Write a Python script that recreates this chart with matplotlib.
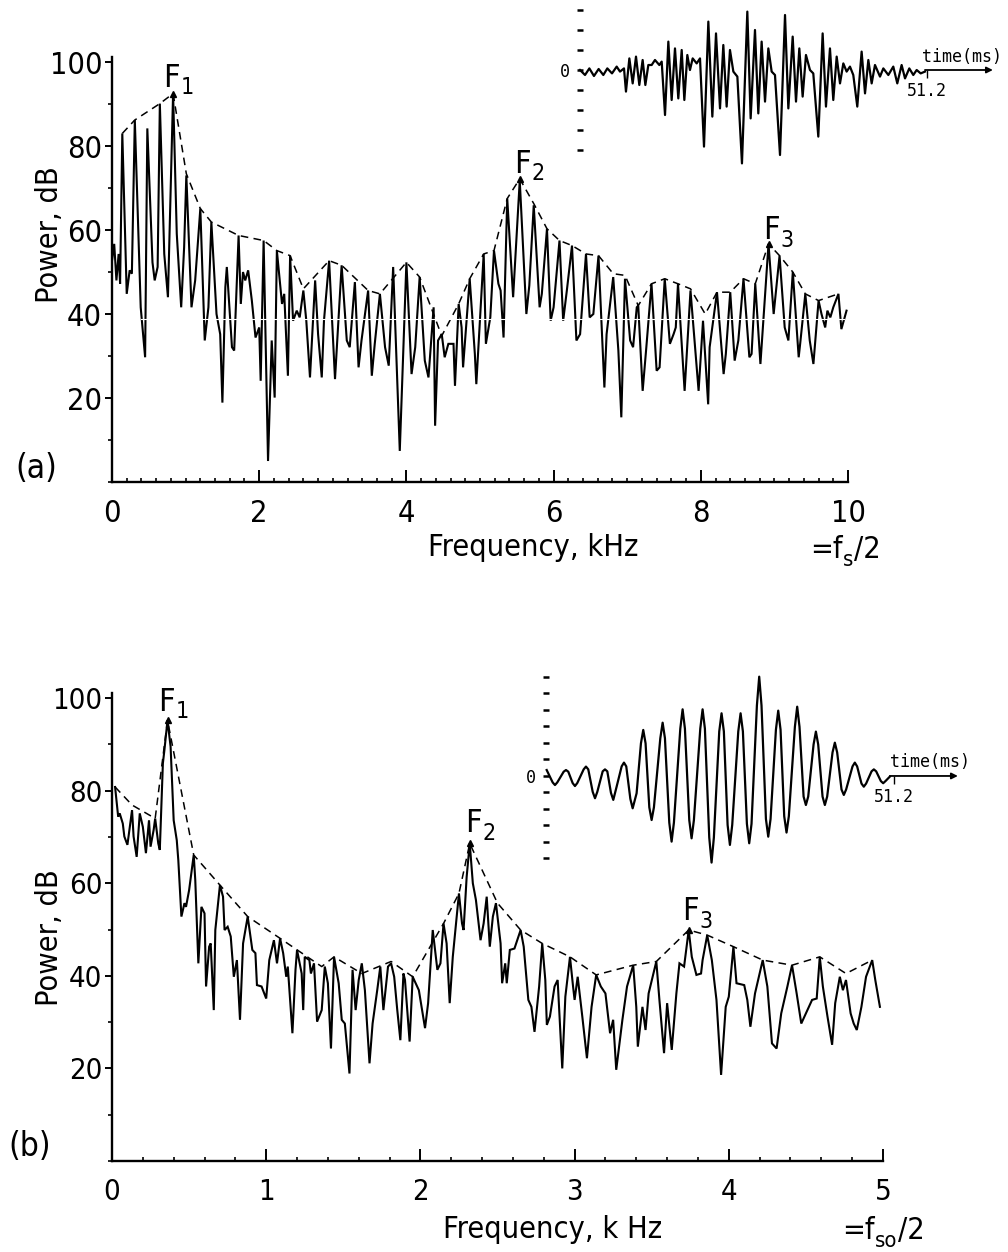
import os
import matplotlib
matplotlib.use('Agg')
import matplotlib.pyplot as plt
from matplotlib import font_manager
from matplotlib.font_manager import FontProperties
from matplotlib.ticker import MultipleLocator
import numpy as np

# ---------------- data ----------------
# Panel (a): power spectrum, 0-10 kHz
a_freq = [0.00, 0.03, 0.06, 0.09, 0.11, 0.14, 0.20, 0.24, 0.27, 0.31,
          0.39, 0.45, 0.48, 0.55, 0.58, 0.62, 0.65, 0.71, 0.76, 0.83,
          0.88, 0.94, 0.98, 1.01, 1.08, 1.13, 1.20, 1.26, 1.31, 1.35,
          1.42, 1.47, 1.50, 1.54, 1.56, 1.63, 1.66, 1.72, 1.75, 1.78,
          1.81, 1.85, 1.90, 1.95, 2.00, 2.02, 2.06, 2.12, 2.17, 2.21,
          2.24, 2.31, 2.34, 2.39, 2.42, 2.46, 2.51, 2.55, 2.60, 2.64,
          2.69, 2.76, 2.80, 2.85, 2.88, 2.95, 3.03, 3.12, 3.19, 3.23,
          3.30, 3.35, 3.39, 3.48, 3.53, 3.57, 3.64, 3.71, 3.76, 3.82,
          3.91, 4.00, 4.07, 4.12, 4.18, 4.25, 4.30, 4.37, 4.39, 4.43,
          4.48, 4.52, 4.57, 4.64, 4.66, 4.71, 4.75, 4.77, 4.86, 4.93,
          4.95, 5.05, 5.08, 5.14, 5.19, 5.25, 5.28, 5.32, 5.37, 5.45,
          5.54, 5.63, 5.67, 5.73, 5.81, 5.84, 5.91, 5.96, 6.00, 6.08,
          6.13, 6.18, 6.25, 6.31, 6.36, 6.44, 6.49, 6.54, 6.61, 6.69,
          6.72, 6.81, 6.88, 6.92, 6.97, 7.04, 7.08, 7.13, 7.15, 7.21,
          7.26, 7.33, 7.40, 7.44, 7.51, 7.58, 7.63, 7.66, 7.69, 7.78,
          7.86, 7.97, 8.03, 8.10, 8.12, 8.22, 8.31, 8.34, 8.40, 8.46,
          8.51, 8.58, 8.66, 8.69, 8.74, 8.81, 8.92, 8.99, 9.07, 9.14,
          9.19, 9.25, 9.33, 9.35, 9.42, 9.48, 9.53, 9.60, 9.64, 9.69,
          9.72, 9.76, 9.80, 9.87, 9.91, 9.98]
a_db = [52.7, 56.7, 48.0, 54.3, 47.2, 83.0, 44.8, 50.4, 49.6, 86.2,
        41.6, 29.7, 84.2, 52.3, 48.0, 51.2, 90.1, 54.3, 44.0, 92.5,
        59.1, 41.6, 55.9, 73.0, 41.6, 48.0, 65.1, 33.7, 41.6, 61.9,
        40.0, 35.2, 18.9, 46.4, 51.2, 32.1, 31.3, 58.7, 42.4, 50.0,
        48.0, 50.4, 43.2, 34.4, 36.8, 24.1, 57.5, 5.0, 33.7, 20.1,
        55.1, 42.4, 44.8, 25.3, 53.9, 38.4, 40.8, 39.2, 45.6, 38.4,
        24.9, 48.0, 35.2, 24.9, 38.4, 52.7, 24.5, 51.6, 33.7, 32.1,
        47.6, 27.3, 33.7, 45.6, 25.3, 32.9, 44.8, 32.1, 27.7, 51.2,
        7.4, 52.3, 25.7, 32.1, 48.8, 28.9, 24.9, 41.6, 13.4, 33.7,
        35.2, 29.7, 32.9, 32.9, 22.9, 42.4, 36.8, 27.3, 48.4, 30.5,
        23.3, 54.3, 32.9, 39.2, 55.1, 47.2, 45.6, 34.4, 67.5, 44.0,
        71.8, 40.0, 46.8, 65.9, 41.6, 44.8, 60.3, 38.4, 41.6, 57.5,
        38.4, 45.6, 56.3, 33.7, 35.2, 54.3, 39.2, 40.0, 53.9, 22.5,
        35.2, 48.8, 31.3, 15.4, 48.4, 33.7, 32.1, 41.6, 42.0, 21.7,
        32.1, 47.2, 26.5, 27.3, 48.4, 32.9, 35.2, 36.8, 47.2, 21.7,
        45.6, 21.7, 38.4, 18.5, 32.1, 45.2, 25.7, 30.5, 45.2, 28.9,
        33.7, 48.4, 29.7, 30.5, 47.2, 28.1, 56.7, 40.0, 53.9, 36.8,
        33.7, 50.0, 29.7, 32.9, 44.8, 33.7, 28.1, 43.2, 40.0, 36.8,
        40.8, 39.2, 41.6, 44.8, 36.4, 40.8]
a_env_freq = [0.14, 0.31, 0.65, 0.83, 1.01, 1.20, 1.35, 1.72, 2.06, 2.24,
              2.42, 2.60, 2.95, 3.12, 3.48, 3.64, 4.00, 4.18, 4.48, 4.71,
              4.86, 5.05, 5.19, 5.37, 5.54, 5.73, 5.91, 6.08, 6.25, 6.44,
              6.61, 6.81, 6.97, 7.15, 7.33, 7.51, 7.69, 7.86, 8.06, 8.22,
              8.40, 8.58, 8.74, 8.92, 9.07, 9.25, 9.42, 9.60, 9.87]
a_env_db = [83.0, 86.2, 90.1, 92.5, 73.4, 65.1, 61.9, 58.7, 57.5, 55.1,
            53.9, 46.0, 52.7, 51.6, 45.6, 44.8, 52.3, 48.8, 34.8, 42.4,
            48.4, 54.3, 55.1, 67.5, 72.2, 66.3, 60.3, 57.5, 56.3, 54.3,
            53.9, 49.6, 49.2, 42.0, 47.2, 48.4, 47.2, 46.0, 40.0, 45.2,
            45.2, 48.4, 47.2, 56.7, 53.9, 50.0, 44.8, 43.2, 44.8]
a_formants = [0.83, 5.54, 8.92]
a_formant_subs = ['1', '2', '3']
a_formant_label_pos = [(0.70, 92.5), (5.47, 72.0), (8.85, 56.2)]

# Panel (a) inset: time waveform (ms, arbitrary amplitude)
a_sig_t = [0, 0.74, 1.38, 2.06, 2.75, 3.44, 4.03, 4.72, 5.41, 5.90,
           6.49, 6.78, 7.28, 7.77, 8.26, 8.75, 9.24, 9.64, 10.08, 10.57,
           11.06, 11.70, 12.05, 12.54, 13.03, 13.52, 14.01, 14.50, 15.00, 15.39,
           15.83, 16.22, 16.62, 17.21, 17.70, 18.29, 18.93, 19.52, 20.06, 20.65,
           21.14, 21.63, 22.12, 22.62, 23.21, 23.89, 24.68, 25.17, 25.81, 26.30,
           26.79, 27.29, 27.78, 28.27, 28.76, 29.50, 30.24, 30.73, 31.37, 31.86,
           32.35, 32.84, 33.33, 33.92, 34.41, 35.15, 35.79, 36.28, 36.87, 37.36,
           37.86, 38.35, 38.84, 39.33, 39.82, 40.31, 40.90, 41.54, 42.04, 42.53,
           43.02, 43.51, 44.25, 44.74, 45.48, 46.21, 46.80, 47.44, 47.94, 48.57,
           49.16, 49.66, 50.25, 50.88]
a_sig_amp = [0, -0.25, 0.08, -0.3, 0.05, -0.25, 0.08, -0.17, 0.17, -0.08,
             0.08, -1.08, 0.58, -0.67, 0.67, -0.75, 0.5, -0.75, 0.25, 0.25,
             0.5, 0.25, 0.42, -2.25, 1.42, -1.5, 1.08, -1.42, 1.0, -1.5,
             0.75, 0, 0.58, 0.33, 0.58, -3.83, 2.42, -2.33, 1.83, -1.92,
             1.25, -1.83, 1.0, -0.08, -0.33, -4.67, 2.92, -2.42, 2.0, -2.17,
             1.42, -1.58, 1.08, -0.08, -0.25, -4.25, 2.75, -1.92, 1.67, -1.58,
             1.08, -1.33, 0.75, 0, -0.17, -3.33, 1.83, -1.83, 1.08, -1.5,
             0.67, -0.67, 0.33, -0.08, 0.17, -0.25, -1.83, 0.92, -1.17, 0.5,
             -0.67, 0.25, -0.33, 0.08, -0.25, 0.17, -0.67, 0.25, -0.42, 0.08,
             -0.25, 0, -0.17, -0.08]

# Panel (b): power spectrum, 0-5 kHz
b_freq = [0.02, 0.04, 0.05, 0.07, 0.08, 0.10, 0.13, 0.14, 0.16, 0.18,
          0.20, 0.22, 0.24, 0.25, 0.27, 0.28, 0.30, 0.31, 0.33, 0.34,
          0.36, 0.38, 0.40, 0.42, 0.43, 0.45, 0.47, 0.48, 0.50, 0.53,
          0.54, 0.56, 0.58, 0.60, 0.61, 0.63, 0.64, 0.66, 0.67, 0.70,
          0.72, 0.73, 0.75, 0.77, 0.79, 0.81, 0.83, 0.85, 0.88, 0.91,
          0.93, 0.94, 0.97, 1.00, 1.02, 1.05, 1.07, 1.09, 1.11, 1.13,
          1.14, 1.17, 1.19, 1.20, 1.23, 1.24, 1.25, 1.28, 1.29, 1.31,
          1.33, 1.36, 1.38, 1.40, 1.42, 1.44, 1.47, 1.49, 1.51, 1.54,
          1.56, 1.58, 1.60, 1.62, 1.64, 1.67, 1.69, 1.72, 1.74, 1.76,
          1.79, 1.81, 1.83, 1.85, 1.87, 1.89, 1.90, 1.93, 1.95, 1.99,
          2.03, 2.05, 2.08, 2.11, 2.13, 2.15, 2.17, 2.19, 2.21, 2.25,
          2.27, 2.28, 2.30, 2.32, 2.34, 2.36, 2.39, 2.41, 2.43, 2.45,
          2.47, 2.49, 2.52, 2.53, 2.55, 2.56, 2.58, 2.61, 2.65, 2.67,
          2.70, 2.72, 2.74, 2.77, 2.79, 2.81, 2.82, 2.84, 2.87, 2.89,
          2.92, 2.94, 2.97, 2.99, 3.00, 3.02, 3.05, 3.08, 3.11, 3.14,
          3.17, 3.20, 3.23, 3.25, 3.27, 3.31, 3.34, 3.38, 3.40, 3.41,
          3.44, 3.46, 3.48, 3.53, 3.55, 3.58, 3.60, 3.63, 3.66, 3.68,
          3.71, 3.74, 3.76, 3.79, 3.82, 3.83, 3.86, 3.89, 3.92, 3.95,
          3.98, 4.00, 4.03, 4.05, 4.10, 4.12, 4.14, 4.17, 4.22, 4.25,
          4.28, 4.31, 4.34, 4.38, 4.41, 4.44, 4.47, 4.50, 4.54, 4.57,
          4.59, 4.61, 4.64, 4.67, 4.69, 4.72, 4.74, 4.76, 4.79, 4.81,
          4.83, 4.86, 4.89, 4.93, 4.95, 4.98]
b_db = [80.8, 74.4, 75.1, 72.9, 70.1, 68.3, 75.8, 70.1, 65.7, 75.1,
        72.2, 66.5, 73.6, 67.9, 71.5, 74.0, 68.6, 67.2, 85.9, 88.8,
        95.2, 89.5, 73.6, 69.3, 65.0, 52.8, 55.7, 54.9, 58.5, 66.1,
        60.7, 42.7, 54.9, 53.5, 37.7, 46.3, 47.0, 32.6, 49.9, 59.6,
        57.1, 49.9, 50.6, 48.5, 39.8, 43.4, 30.5, 47.0, 52.8, 45.6,
        44.9, 38.0, 37.7, 35.1, 43.4, 47.7, 42.7, 48.1, 44.9, 39.8,
        42.0, 27.6, 41.3, 45.6, 40.5, 32.6, 44.1, 43.4, 40.5, 42.7,
        30.1, 32.6, 42.0, 38.4, 24.3, 44.1, 38.4, 30.5, 29.7, 18.9,
        41.3, 32.6, 39.1, 42.7, 36.9, 21.1, 29.7, 36.9, 42.0, 32.6,
        42.0, 42.7, 39.8, 32.6, 26.1, 40.5, 39.1, 25.8, 39.8, 36.9,
        28.7, 34.1, 49.9, 41.3, 42.7, 51.3, 47.0, 34.1, 44.1, 57.8,
        51.3, 49.9, 61.4, 68.6, 60.0, 56.4, 47.7, 51.3, 57.1, 46.3,
        52.8, 55.7, 47.0, 38.4, 42.7, 38.4, 45.6, 45.9, 49.9, 46.3,
        34.8, 33.3, 27.9, 37.7, 47.0, 39.1, 29.4, 31.2, 37.7, 39.1,
        20.0, 35.5, 44.1, 37.7, 34.8, 39.8, 31.2, 22.2, 33.3, 40.2,
        37.7, 36.2, 27.6, 30.5, 19.7, 30.5, 37.7, 42.3, 33.3, 24.7,
        33.3, 28.3, 36.2, 43.1, 34.8, 23.3, 34.1, 24.0, 36.2, 42.7,
        42.0, 49.9, 44.1, 40.2, 40.5, 43.4, 48.8, 43.4, 34.8, 18.6,
        33.3, 35.5, 46.3, 38.4, 38.0, 34.8, 29.0, 36.2, 43.4, 37.7,
        25.4, 24.3, 31.9, 37.7, 42.3, 36.2, 29.7, 31.9, 34.8, 35.1,
        44.1, 37.7, 31.2, 25.1, 34.1, 39.8, 36.9, 39.1, 31.9, 29.7,
        28.3, 33.3, 39.8, 43.4, 39.1, 33.3]
b_env_freq = [0.02, 0.13, 0.28, 0.36, 0.53, 0.70, 0.88, 1.09, 1.36, 1.44,
              1.62, 1.81, 1.95, 2.15, 2.25, 2.32, 2.50, 2.65, 2.79, 2.97,
              3.14, 3.38, 3.53, 3.74, 3.86, 4.03, 4.22, 4.41, 4.59, 4.76,
              4.93]
b_env_db = [80.8, 76.9, 74.0, 95.2, 66.1, 59.6, 52.8, 48.1, 42.0, 44.1,
            40.5, 43.1, 39.8, 51.3, 57.8, 68.6, 55.7, 49.9, 47.0, 44.1,
            40.2, 42.3, 43.1, 49.9, 48.8, 46.3, 43.4, 42.3, 44.1, 40.5,
            43.4]
b_formants = [0.36, 2.32, 3.74]
b_formant_subs = ['1', '2', '3']
b_formant_label_pos = [(0.30, 95.8), (2.29, 69.5), (3.70, 50.5)]

# Panel (b) inset: time waveform
b_sig_t = [0.10, 0.98, 1.32, 1.66, 2.60, 2.94, 3.28, 3.92, 4.26, 4.60,
           5.54, 5.88, 6.22, 6.87, 7.21, 7.55, 8.34, 8.68, 9.02, 9.56,
           9.90, 10.39, 11.13, 11.47, 11.81, 12.41, 12.75, 13.33, 13.97, 14.31,
           14.65, 15.20, 15.54, 15.88, 16.82, 17.16, 17.50, 18.14, 18.48, 18.82,
           19.76, 20.10, 20.44, 21.08, 21.42, 21.76, 22.70, 23.04, 23.38, 24.02,
           24.36, 24.70, 25.49, 25.83, 26.17, 26.72, 27.06, 27.40, 28.29, 28.63,
           28.97, 29.56, 29.90, 30.24, 31.03, 31.37, 31.71, 32.36, 32.70, 33.04,
           33.83, 34.17, 34.51, 35.05, 35.39, 35.73, 36.62, 36.96, 37.30, 37.90,
           38.24, 38.58, 39.37, 39.71, 40.05, 40.69, 41.03, 41.37, 42.16, 42.50,
           42.84, 43.48, 43.82, 44.16, 45.10, 45.44, 45.78, 46.42, 46.76, 47.10,
           47.90, 48.24, 48.58, 49.27, 49.61, 49.95, 50.59]
b_sig_amp = [0.36, -0.39, -0.55, -0.39, 0.26, 0.36, 0.26, -0.43, -0.61, -0.43,
             0.40, 0.57, 0.40, -0.96, -1.35, -0.96, 0.28, 0.40, 0.28, -1.03,
             -1.45, -0.65, 0.58, 0.81, 0.58, -1.39, -1.96, -1.05, 1.98, 2.79,
             1.98, -1.90, -2.67, -1.90, 2.29, 3.23, 2.29, -2.83, -3.98, -2.83,
             2.87, 4.04, 2.87, -2.68, -3.78, -2.68, 2.87, 4.04, 2.87, -3.73,
             -5.25, -3.73, 2.70, 3.80, 2.70, -2.97, -4.18, -2.97, 2.70, 3.80,
             2.70, -2.90, -4.08, -2.90, 4.27, 6.02, 4.27, -2.61, -3.68, -2.61,
             2.81, 3.96, 2.81, -2.44, -3.43, -2.44, 2.98, 4.20, 2.98, -1.25,
             -1.76, -1.25, 1.91, 2.69, 1.91, -1.25, -1.76, -1.25, 1.43, 2.02,
             1.43, -0.82, -1.15, -0.82, 0.58, 0.81, 0.58, -0.46, -0.65, -0.46,
             0.28, 0.40, 0.28, -0.31, -0.44, -0.31, -0.04]

y_ticks = [20, 40, 60, 80, 100]
a_xticks = [0, 2, 4, 6, 8, 10]
b_xticks = [0, 1, 2, 3, 4, 5]

# ---------------- fonts ----------------
def find_narrow_font():
    files = [f.fname for f in font_manager.fontManager.ttflist]
    try:
        files += font_manager.findSystemFonts()
    except Exception:
        pass
    prefs = ['LiberationSansNarrow-Regular', 'DejaVuSansCondensed.ttf',
             'RobotoCondensed-Regular', 'OpenSans_Condensed-Regular',
             'OpenSansCondensed-Regular', 'NotoSans-Condensed.ttf',
             'NotoSansDisplay-Condensed']
    for p in prefs:
        for fn in files:
            if os.path.basename(fn).startswith(p):
                return fn
    for fn in files:
        b = os.path.basename(fn)
        if (('Condensed' in b or 'Narrow' in b) and not any(
                k in b for k in ('Bold', 'Oblique', 'Italic', 'Light', 'Thin',
                                 'Black', 'Medium', 'Semi', 'Extra'))):
            return fn
    return None


NARROW = find_narrow_font()
if NARROW is not None:
    BASE = FontProperties(fname=NARROW)
    SCALE = 1.0
else:
    BASE = FontProperties(family='Liberation Sans')
    SCALE = 0.92
MONO = FontProperties(family='DejaVu Sans Mono')


def fp(size):
    p = BASE.copy()
    p.set_size(size * SCALE)
    return p


def mfp(size):
    p = MONO.copy()
    p.set_size(size)
    return p


W, H = 1008, 1252
fig = plt.figure(figsize=(W / 100, H / 100), dpi=100)


def rect(x0, y0, x1, y1):
    return [x0 / W, 1 - y1 / H, (x1 - x0) / W, (y1 - y0) / H]


def sub_text(container, host, x, y, main, sub, size, tail='', transform=None,
             ha='left', va='bottom'):
    kw = {} if transform is None else {'transform': transform}
    t = container.text(x, y, main, fontproperties=fp(size), ha=ha, va=va, **kw)
    s = host.annotate(sub, xy=(1, 0), xycoords=t, xytext=(0.5, -4),
                      textcoords='offset points', fontproperties=fp(size * 0.72),
                      ha='left', va='bottom', annotation_clip=False)
    if tail:
        host.annotate(tail, xy=(1, 0), xycoords=s, xytext=(0.5, 4),
                      textcoords='offset points', fontproperties=fp(size),
                      ha='left', va='bottom', annotation_clip=False)
    return t


def setup_main(ax, xmax, xticks, ytop, lsize):
    ax.set_xlim(0, xmax)
    ax.set_ylim(0, ytop)
    for s in ['top', 'right']:
        ax.spines[s].set_visible(False)
    for s in ['left', 'bottom']:
        ax.spines[s].set_linewidth(1.7)
    ax.set_xticks(xticks)
    ax.set_xticklabels([str(v) for v in xticks], fontproperties=fp(lsize))
    ax.xaxis.set_minor_locator(MultipleLocator(0.2))
    ax.set_yticks(y_ticks)
    ax.set_yticklabels([str(v) for v in y_ticks], fontproperties=fp(lsize))
    ax.yaxis.set_minor_locator(MultipleLocator(10))
    ax.tick_params(axis='x', which='major', direction='in', length=9, width=1.4, pad=12)
    ax.tick_params(axis='x', which='minor', direction='in', length=3, width=1.2)
    ax.tick_params(axis='y', which='major', direction='out', length=5, width=1.4, pad=2)
    ax.tick_params(axis='y', which='minor', direction='out', length=3, width=1.2)


def draw_spectrum(ax, f, db, ef, edb, formants, subs, lpos, fsize):
    ax.plot(f, db, color='black', lw=1.5, zorder=3, solid_joinstyle='miter')
    ax.plot(ef, edb, color='black', lw=1.1, ls=(0, (5, 3.5)), zorder=4)
    ef_arr = np.asarray(ef)
    edb_arr = np.asarray(edb)
    for fm, sb, (lx, ly) in zip(formants, subs, lpos):
        i = int(np.argmin(np.abs(ef_arr - fm)))
        ax.plot([ef_arr[i]], [edb_arr[i]], marker='^', color='black', ms=5, zorder=5)
        sub_text(ax, ax, lx, ly, 'F', sb, fsize)


def setup_inset(ax, t, amp, xlim, ylim, yt, arrow_end, label_xy):
    ax.set_xlim(*xlim)
    ax.set_ylim(*ylim)
    ax.patch.set_alpha(0)
    for s in ax.spines.values():
        s.set_visible(False)
    ax.spines['left'].set_position(('data', 0))
    ax.spines['bottom'].set_position(('data', 0))
    ax.plot(t, amp, color='black', lw=1.6, solid_joinstyle='round')
    ax.set_yticks(yt)
    ax.set_yticklabels(['0' if v == 0 else '' for v in yt], fontproperties=mfp(12))
    ax.tick_params(axis='y', direction='inout', length=4, width=1.8, pad=5)
    ax.set_xticks([51.2])
    ax.set_xticklabels(['51.2'], fontproperties=mfp(12))
    ax.tick_params(axis='x', direction='out', length=6, width=1.0, pad=3)
    ax.annotate('', xy=(arrow_end, 0), xytext=(t[-1], 0),
                arrowprops=dict(arrowstyle='-|>', lw=1.3, color='black',
                                mutation_scale=9, shrinkA=0, shrinkB=0))
    ax.text(label_xy[0], label_xy[1], 'time(ms)', fontproperties=mfp(12),
            ha='center', va='center')


# ---------------- panel (a) ----------------
ax_a = fig.add_axes(rect(112, 57, 848, 482))
setup_main(ax_a, 10, a_xticks, 101.2, 22)
draw_spectrum(ax_a, a_freq, a_db, a_env_freq, a_env_db, a_formants,
              a_formant_subs, a_formant_label_pos, 23)
ax_a.axhline(38.7, xmin=0.04, xmax=0.995, color='white', lw=0.8, zorder=6)

fig.text(50 / W, 1 - 235 / H, 'Power, dB', rotation=90, ha='center', va='center',
         fontproperties=fp(22))
fig.text(533 / W, 1 - 548 / H, 'Frequency, kHz', ha='center', va='center',
         fontproperties=fp(22))
sub_text(fig, ax_a, 810 / W, 1 - 564 / H, '=f', 's', 22, tail='/2',
         transform=fig.transFigure)
fig.text(36 / W, 1 - 468 / H, '(a)', ha='center', va='center', fontproperties=fp(24))

ins_a = fig.add_axes(rect(560, 0, 1000, 170))
setup_inset(ins_a, a_sig_t, a_sig_amp, (-2.95, 61.95), (-5.0, 3.5),
            [-4, -3, -2, -1, 0, 1, 2, 3], 60.9, (56.3, 0.65))

# ---------------- panel (b) ----------------
ax_b = fig.add_axes(rect(112, 693, 883, 1161))
setup_main(ax_b, 5, b_xticks, 101.1, 21)
draw_spectrum(ax_b, b_freq, b_db, b_env_freq, b_env_db, b_formants,
              b_formant_subs, b_formant_label_pos, 23)

fig.text(50 / W, 1 - 938 / H, 'Power, dB', rotation=90, ha='center', va='center',
         fontproperties=fp(22))
fig.text(553 / W, 1 - 1230 / H, 'Frequency, k Hz', ha='center', va='center',
         fontproperties=fp(22))
sub_text(fig, ax_b, 842 / W, 1 - 1245 / H, '=f', 'so', 22, tail='/2',
         transform=fig.transFigure)
fig.text(30 / W, 1 - 1146 / H, '(b)', ha='center', va='center', fontproperties=fp(24))

ins_b = fig.add_axes(rect(525, 660, 1000, 870))
setup_inset(ins_b, b_sig_t, b_sig_amp, (-3.09, 66.8), (-5.70, 7.03),
            [-5, -4, -3, -2, -1, 0, 1, 2, 3, 4, 5, 6], 60.6, (56.5, 0.85))

fig.savefig('out.png', dpi=100, facecolor='white')
